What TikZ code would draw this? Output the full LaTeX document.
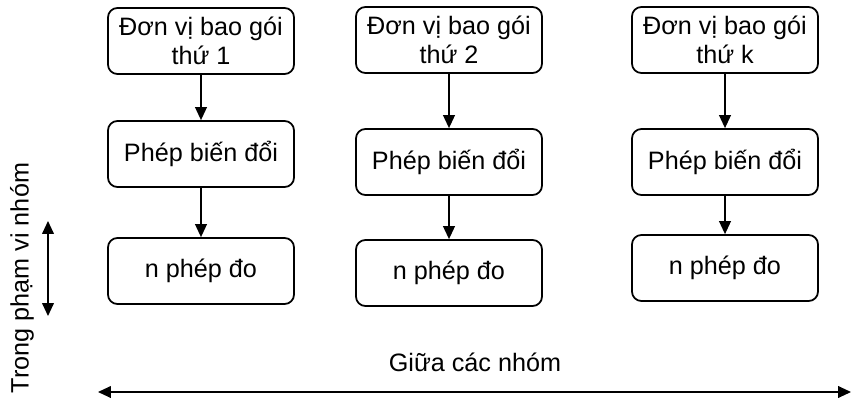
\documentclass[tikz,border=0pt]{standalone}
\usepackage{fontspec}
\setmainfont{Liberation Sans}
\usetikzlibrary{arrows.meta, positioning}

\begin{document}
\begin{tikzpicture}[
  x=0.03cm, y=-0.03cm,
  >={Triangle[length=11pt, width=10pt]},
  unit/.style={
    draw=black, line width=1.5pt, rounded corners=8pt,
    minimum width=186*0.03cm, minimum height=66*0.03cm, align=center,
    font=\fontsize{21.5}{25}\selectfont, inner sep=1pt
  },
  dep/.style={->, line width=1.2pt},
  span/.style={<->, line width=1.2pt},
  lbl/.style={font=\fontsize{21.5}{25}\selectfont},
]
\useasboundingbox (0,0) rectangle (851,400);

% Group 1
\node[unit] (pkg1)  at (201, 41)  {Đơn vị bao gói\\thứ 1};
\node[unit] (tr1)   at (201, 154) {Phép biến đổi};
\node[unit] (meas1) at (201, 271) {n phép đo};

% Group 2
\node[unit] (pkg2)  at (449, 40)  {Đơn vị bao gói\\thứ 2};
\node[unit] (tr2)   at (449, 162) {Phép biến đổi};
\node[unit] (meas2) at (449, 273) {n phép đo};

% Group k
\node[unit] (pkgk)  at (725, 40)  {Đơn vị bao gói\\thứ k};
\node[unit] (trk)   at (725, 162) {Phép biến đổi};
\node[unit] (meask) at (725, 268) {n phép đo};

% Flow inside each group
\draw[dep] (pkg1) -- (tr1);
\draw[dep] (tr1)  -- (meas1);
\draw[dep] (pkg2) -- (tr2);
\draw[dep] (tr2)  -- (meas2);
\draw[dep] (pkgk) -- (trk);
\draw[dep] (trk)  -- (meask);

% Axes
\coordinate (wtop) at (48, 221);
\coordinate (wbot) at (48, 316);
\draw[span] (wtop) -- (wbot);
\node[lbl, rotate=90] (within) at (22, 278) {Trong phạm vi nhóm};

\coordinate (bleft)  at (98, 392);
\coordinate (bright) at (851, 392);
\draw[span] (bleft) -- (bright);
\node[lbl] (between) at (475, 362) {Giữa các nhóm};

\end{tikzpicture}
\end{document}
